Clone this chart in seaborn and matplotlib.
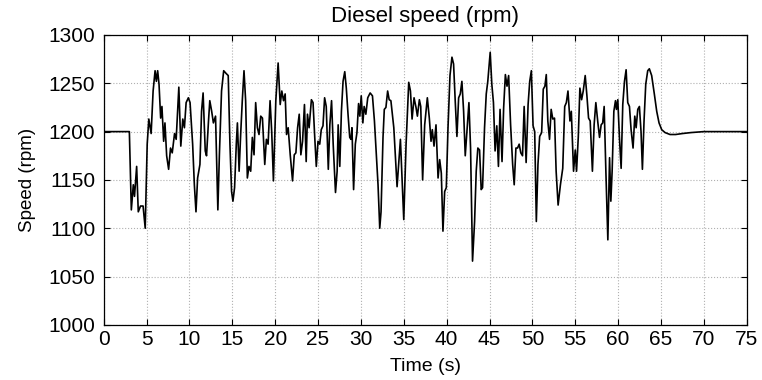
import numpy as np
import pandas as pd
import matplotlib
matplotlib.use("Agg")
import matplotlib.pyplot as plt
import seaborn as sns

# Zaman (s) ve dizel hizi (rpm)
time_s = [
    0.0, 3.0, 3.23, 3.46, 3.6, 3.85, 4.04, 4.3, 4.6, 4.85, 5.08, 5.27, 5.54, 5.77,
    6.0, 6.15, 6.3, 6.46, 6.65, 6.8, 7.0, 7.15, 7.35, 7.58, 7.8, 8.0, 8.27, 8.46,
    8.77, 9.0, 9.23, 9.42, 9.62, 9.88, 10.08, 10.38, 10.58, 10.77, 10.96, 11.23,
    11.42, 11.6, 11.85, 12.0, 12.23, 12.38, 12.6, 12.8, 13.05, 13.32, 13.5, 13.75,
    14.0, 14.3, 14.53, 14.73, 14.92, 15.08, 15.27, 15.47, 15.6, 15.8, 15.98, 16.17,
    16.37, 16.56, 16.76, 16.95, 17.15, 17.34, 17.54, 17.73, 17.93, 18.12, 18.32,
    18.52, 18.79, 18.98, 19.18, 19.41, 19.6, 19.8, 20.08, 20.35, 20.59, 20.78,
    20.98, 21.17, 21.33, 21.52, 21.76, 22.03, 22.23, 22.42, 22.62, 22.81, 23.0,
    23.2, 23.42, 23.62, 23.77, 23.96, 24.23, 24.42, 24.62, 24.8, 25.0, 25.2, 25.38,
    25.58, 25.77, 25.96, 26.2, 26.38, 26.58, 26.77, 27.04, 27.23, 27.35, 27.54,
    27.73, 27.92, 28.12, 28.3, 28.5, 28.7, 28.85, 28.96, 29.15, 29.35, 29.54,
    29.73, 29.88, 30.04, 30.23, 30.38, 30.58, 30.8, 31.08, 31.35, 31.58, 31.8,
    32.0, 32.2, 32.35, 32.58, 32.73, 32.92, 33.12, 33.3, 33.5, 33.7, 33.84, 34.22,
    34.61, 35.0, 35.27, 35.58, 35.78, 35.97, 36.2, 36.43, 36.59, 36.82, 36.98,
    37.2, 37.44, 37.75, 37.98, 38.18, 38.33, 38.53, 38.76, 39.0, 39.19, 39.38,
    39.57, 39.77, 39.96, 40.16, 40.39, 40.62, 40.81, 41.0, 41.2, 41.4, 41.59,
    41.78, 41.98, 42.17, 42.36, 42.6, 42.79, 43.02, 43.26, 43.45, 43.64, 43.84,
    44.03, 44.19, 44.42, 44.62, 44.8, 45.08, 45.27, 45.46, 45.65, 45.85, 46.04,
    46.23, 46.46, 46.65, 46.85, 47.04, 47.23, 47.46, 47.7, 47.88, 48.08, 48.27,
    48.46, 48.65, 48.85, 49.04, 49.27, 49.5, 49.69, 49.88, 50.08, 50.27, 50.46,
    50.65, 50.85, 51.08, 51.27, 51.46, 51.62, 51.8, 52.0, 52.19, 52.38, 52.58,
    52.77, 53.0, 53.27, 53.54, 53.77, 53.96, 54.15, 54.38, 54.54, 54.8, 55.0,
    55.15, 55.35, 55.54, 55.74, 55.93, 56.16, 56.36, 56.55, 56.74, 57.0, 57.2,
    57.4, 57.64, 57.83, 58.02, 58.2, 58.37, 58.57, 58.8, 59.0, 59.15, 59.3, 59.5,
    59.69, 59.8, 59.96, 60.15, 60.35, 60.54, 60.74, 60.93, 61.12, 61.32, 61.51,
    61.74, 61.94, 62.1, 62.29, 62.48, 62.67, 62.83, 63.02, 63.22, 63.45, 63.64,
    63.91, 64.22, 64.5, 64.77, 65.08, 65.47, 66.05, 66.7, 67.5, 68.5, 70.0, 75.0,
]
speed_rpm = [
    1200, 1200, 1119, 1145, 1133, 1164, 1117, 1123, 1123, 1100, 1187, 1213, 1198, 1242,
    1263, 1252, 1263, 1249, 1214, 1226, 1190, 1209, 1175, 1161, 1183, 1178, 1198, 1192,
    1246, 1185, 1213, 1204, 1230, 1235, 1230, 1187, 1145, 1117, 1152, 1166,
    1221, 1240, 1180, 1175, 1211, 1232, 1221, 1209, 1216, 1119, 1176, 1242,
    1263, 1260, 1258, 1187, 1138, 1128, 1142, 1187, 1209, 1159, 1197, 1232,
    1263, 1232, 1152, 1164, 1159, 1194, 1176, 1230, 1204, 1197, 1216,
    1214, 1166, 1192, 1187, 1232, 1200, 1149, 1232, 1271, 1228, 1242,
    1232, 1239, 1197, 1204, 1176, 1149, 1176, 1178, 1204, 1218, 1176,
    1190, 1228, 1169, 1218, 1204, 1233, 1230, 1194, 1164, 1190, 1187, 1202,
    1206, 1235, 1226, 1161, 1207, 1232, 1187, 1137, 1159, 1207, 1164,
    1221, 1252, 1262, 1245, 1218, 1194, 1192, 1204, 1140, 1187, 1199,
    1229, 1216, 1237, 1209, 1226, 1218, 1235, 1240, 1237, 1211, 1176,
    1145, 1100, 1117, 1194, 1223, 1225, 1242, 1233, 1232, 1215, 1204, 1143,
    1192, 1109, 1187, 1251, 1242, 1213, 1235, 1225, 1216, 1233, 1226,
    1150, 1207, 1235, 1214, 1190, 1202, 1185, 1207, 1152, 1171, 1157,
    1097, 1138, 1142, 1204, 1258, 1277, 1270, 1232, 1195, 1235, 1239,
    1252, 1221, 1175, 1200, 1230, 1183, 1066, 1107, 1159, 1183, 1181,
    1140, 1142, 1204, 1239, 1252, 1282, 1249, 1230, 1180, 1206, 1164,
    1223, 1169, 1225, 1259, 1247, 1258, 1207, 1166, 1145, 1183, 1183,
    1187, 1178, 1175, 1226, 1168, 1228, 1252, 1263, 1206, 1200, 1107,
    1166, 1195, 1199, 1244, 1247, 1259, 1211, 1192, 1223, 1213, 1214,
    1159, 1124, 1145, 1162, 1226, 1230, 1242, 1211, 1221, 1159, 1181,
    1159, 1194, 1245, 1233, 1242, 1258, 1237, 1214, 1211, 1159, 1207,
    1230, 1209, 1194, 1207, 1209, 1226, 1159, 1088, 1173, 1128, 1159, 1221,
    1232, 1223, 1233, 1194, 1162, 1228, 1252, 1264, 1230, 1226, 1202,
    1183, 1216, 1204, 1223, 1226, 1200, 1161, 1211, 1249, 1263, 1265,
    1258, 1239, 1221, 1209, 1202, 1199, 1197, 1197, 1198, 1199, 1200, 1200,
]

x_ticks = list(range(0, 80, 5))
y_ticks = list(range(1000, 1350, 50))

df = pd.DataFrame({"Time (s)": time_s, "Speed (rpm)": speed_rpm})

sns.set_style("ticks")
plt.rcParams["font.family"] = ["Liberation Sans", "DejaVu Sans"]
plt.rcParams["text.color"] = "black"
plt.rcParams["axes.labelcolor"] = "black"

fig = plt.figure(figsize=(7.62, 3.80), dpi=100)
ax = fig.add_axes([0.136, 0.145, 0.844, 0.763])

sns.lineplot(data=df, x="Time (s)", y="Speed (rpm)", color="black",
             linewidth=1.2, ax=ax, sort=False, estimator=None)

ax.set_xlim(0, 75)
ax.set_ylim(1000, 1300)
ax.set_xticks(x_ticks)
ax.set_yticks(y_ticks)
ax.grid(True, linestyle=":", color="#b0b0b0", linewidth=0.8)
ax.tick_params(direction="in", top=True, right=True, length=4, width=0.8,
               labelsize=15, colors="black")
ax.tick_params(axis="x", pad=4)
ax.tick_params(axis="y", pad=6)
for s in ax.spines.values():
    s.set_visible(True)
    s.set_color("black")
    s.set_linewidth(0.9)

ax.set_title("Diesel speed (rpm)", fontsize=16, pad=9, color="black")
ax.set_xlabel("Time (s)", fontsize=14, labelpad=6)
ax.set_ylabel("Speed (rpm)", fontsize=13.5, labelpad=9)

fig.savefig("out.png", dpi=100, facecolor="white")
